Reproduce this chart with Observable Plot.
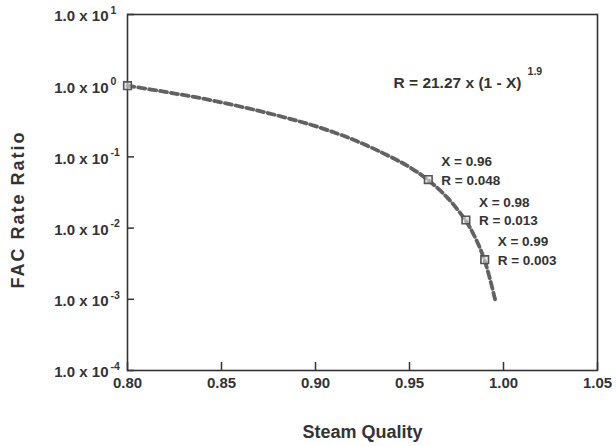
<!DOCTYPE html>
<html>
<head>
<meta charset="utf-8">
<script src="https://cdn.jsdelivr.net/npm/d3@7"></script>
<script src="https://cdn.jsdelivr.net/npm/@observablehq/plot@0.6"></script>
<style>
  html, body { margin: 0; padding: 0; background: #fff; }
  #chart { width: 616px; height: 446px; }
</style>
</head>
<body>
<div id="chart"></div>
<script>
// Steam quality X and FAC rate ratio R
const curveX = [0.80, 0.82, 0.84, 0.86, 0.88, 0.90, 0.92, 0.94, 0.95, 0.96, 0.97, 0.98, 0.985, 0.99, 0.9955];
const curveR = [1.0, 0.82, 0.66, 0.51, 0.38, 0.27, 0.175, 0.10, 0.072, 0.047, 0.027, 0.0126, 0.0073, 0.0035, 0.001];

// marked points
const markX = [0.80, 0.96, 0.98, 0.99];
const markR = [1.0, 0.048, 0.013, 0.0036];

// point annotations
const annX = [0.96, 0.98, 0.99];
const annR = [0.048, 0.013, 0.0036];
const annText = ["X = 0.96\nR = 0.048", "X = 0.98\nR = 0.013", "X = 0.99\nR = 0.003"];

// axis ticks
const xTicks = [0.80, 0.85, 0.90, 0.95, 1.00, 1.05];
const xTickLabels = ["0.80", "0.85", "0.90", "0.95", "1.00", "1.05"];
const yTicks = [10, 1, 0.1, 0.01, 0.001, 0.0001];
const yTickBase = "1.0 x 10";
const yTickExp = ["1", "0", "-1", "-2", "-3", "-4"];

// equation annotation
const eqText = ["R = 21.27 x (1 - X)"];
const eqX = [0.9415];
const eqR = [1.1];
const eqExpText = ["1.9"];
const eqExpX = [1.0128];
const eqExpR = [1.6];

const curve = curveX.map((x, i) => ({x, r: curveR[i]}));
const marks = markX.map((x, i) => ({x, r: markR[i]}));
const ann = annX.map((x, i) => ({x, r: annR[i], t: annText[i]}));

const ink = "#333";

const chart = Plot.plot({
  width: 616,
  height: 446,
  marginLeft: 127,
  marginRight: 19,
  marginTop: 14,
  marginBottom: 76,
  x: {domain: [0.80, 1.05]},
  y: {type: "log", domain: [1e-4, 10]},
  style: {fontFamily: "'Liberation Sans', Arial, sans-serif", color: ink, background: "#fff"},
  marks: [
    Plot.axisX({ticks: xTicks, tickSize: -8, text: null, label: null, stroke: "#333", strokeWidth: 1.5}),
    Plot.axisY({ticks: yTicks, tickSize: -7, text: null, label: null, stroke: "#333", strokeWidth: 1.5}),
    Plot.frame({stroke: "#333", strokeWidth: 1.6}),
    Plot.text(xTicks, {x: d => d, frameAnchor: "bottom", dy: 17, text: (d, i) => xTickLabels[i], fontSize: 15, fontWeight: "bold", fill: ink}),
    Plot.text(yTicks, {y: d => d, frameAnchor: "left", dx: -19, dy: 2, textAnchor: "end", text: () => yTickBase, fontSize: 15, fontWeight: "bold", fill: ink}),
    Plot.text(yTicks, {y: d => d, frameAnchor: "left", dx: -17, dy: -4, textAnchor: "start", text: (d, i) => yTickExp[i], fontSize: 10.5, fontWeight: "bold", fill: ink}),
    Plot.line(curve, {x: "x", y: "r", curve: "catmull-rom", stroke: "#626262", strokeWidth: 3.8, strokeDasharray: "7,4"}),
    Plot.dot(marks, {x: "x", y: "r", symbol: "square", r: 4.3, stroke: "#555", strokeWidth: 1.6, fill: "#ddd", fillOpacity: 0.6}),
    Plot.text(ann, {x: "x", y: "r", text: "t", textAnchor: "start", dx: 13, dy: -10, lineHeight: 1.35, fontSize: 13.5, fontWeight: "bold", fill: ink}),
    Plot.text(eqText, {x: (d, i) => eqX[i], y: (d, i) => eqR[i], text: d => d, textAnchor: "start", fontSize: 15.5, fontWeight: "bold", fill: ink}),
    Plot.text(eqExpText, {x: (d, i) => eqExpX[i], y: (d, i) => eqExpR[i], text: d => d, textAnchor: "start", fontSize: 10.5, fontWeight: "bold", fill: ink}),
    Plot.text(["FAC Rate Ratio"], {frameAnchor: "left", dx: -109, dy: 17, rotate: -90, textAnchor: "middle", text: d => d, fontSize: 18, fontWeight: "bold", fill: ink}),
    Plot.text(["Steam Quality"], {frameAnchor: "bottom", dy: 67, text: d => d, fontSize: 18, fontWeight: "bold", fill: ink})
  ]
});
d3.select(chart).selectAll("text")
  .filter(function() { return this.textContent === "FAC Rate Ratio"; })
  .style("letter-spacing", "2px");
document.getElementById("chart").appendChild(chart);
</script>
</body>
</html>
